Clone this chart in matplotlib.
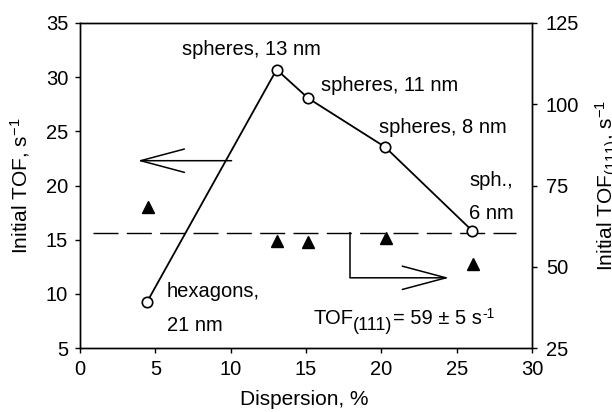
import matplotlib
matplotlib.use("Agg")
import matplotlib.pyplot as plt

plt.rcParams['font.family'] = ['Liberation Sans', 'DejaVu Sans']
plt.rcParams['mathtext.fontset'] = 'custom'
plt.rcParams['mathtext.rm'] = 'Liberation Sans'
plt.rcParams['mathtext.it'] = 'Liberation Sans:italic'
plt.rcParams['mathtext.bf'] = 'Liberation Sans:bold'
plt.rcParams['font.size'] = 14.5

# Initial TOF (left axis), open circles
disp_init = [4.45, 13.05, 15.15, 20.25, 26.05]
tof_init = [9.25, 30.7, 28.05, 23.55, 15.8]

# TOF(111) (right axis), filled triangles
disp_111 = [4.5, 13.1, 15.15, 20.3, 26.1]
tof_111 = [68.5, 58.0, 57.6, 58.7, 51.0]
tof_111_mean = 60.5

fig = plt.figure(figsize=(6.12, 4.12), dpi=100)
ax = fig.add_axes([0.1307, 0.1553, 0.7386, 0.7889])
ax2 = ax.twinx()
ax.set_zorder(ax2.get_zorder() + 1)
ax.patch.set_visible(False)

ax.set_xlim(0, 30)
ax.set_ylim(5, 35)
ax2.set_ylim(25, 125)
ax.set_xticks([0, 5, 10, 15, 20, 25, 30])
ax.set_yticks([5, 10, 15, 20, 25, 30, 35])
ax2.set_yticks([25, 50, 75, 100, 125])

for a in (ax, ax2):
    for s in a.spines.values():
        s.set_linewidth(1.0)
ax.tick_params(axis='both', direction='out', length=3.5, width=1.0, top=False, right=False)
ax.tick_params(axis='y', pad=5)
ax.tick_params(axis='x', pad=5)
ax2.tick_params(axis='y', direction='out', length=3.5, width=1.0, pad=6.5)

# TOF(111) series
ax2.plot(disp_111, tof_111, linestyle='none', marker='^', markersize=9,
         color='black', zorder=3)
ax2.plot([0.88, 28.97], [tof_111_mean, tof_111_mean], color='black', lw=1.0,
         dashes=(18, 6), zorder=2)

# Initial TOF series
ax.plot(disp_init, tof_init, color='black', lw=1.3, marker='o', markersize=7.5,
        markerfacecolor='white', markeredgecolor='black', markeredgewidth=1.2, zorder=4)

# point labels
ax.text(5.75, 9.73, "hexagons,", ha='left', va='baseline')
ax.text(5.75, 6.59, "21 nm", ha='left', va='baseline')
ax.text(11.4, 32.05, "spheres, 13 nm", ha='center', va='baseline')
ax.text(20.57, 28.75, "spheres, 11 nm", ha='center', va='baseline')
ax.text(24.1, 24.87, "spheres, 8 nm", ha='center', va='baseline')
ax.text(27.3, 19.95, "sph.,", ha='center', va='baseline')
ax.text(27.3, 16.87, "6 nm", ha='center', va='baseline')

# TOF(111) = 59 ± 5 s-1 built from pieces
t1 = ax.text(15.48, 7.18, "TOF", ha='left', va='baseline', fontsize=14.5)
t2 = ax.annotate("(111)", xy=(1, 0), xycoords=t1, xytext=(0, -4),
                 textcoords='offset points', ha='left', va='bottom', fontsize=13)
t3 = ax.annotate("= 59 ± 5 s", xy=(1, 0), xycoords=t2, xytext=(0, 4),
                 textcoords='offset points', ha='left', va='bottom', fontsize=14.5)
t4 = ax.annotate("-1", xy=(1, 1), xycoords=t3, xytext=(0.5, 2),
                 textcoords='offset points', ha='left', va='top', fontsize=10)

# arrows
arrow_kw = dict(arrowstyle='->,head_length=31.5,head_width=8.4', color='black',
                lw=1.1, shrinkA=0, shrinkB=0, mutation_scale=1)
ax.annotate("", xy=(3.83, 22.29), xytext=(10.06, 22.29), arrowprops=arrow_kw)
ax.plot([17.92, 17.92], [15.67, 11.48], color='black', lw=1.1, solid_capstyle='butt')
ax.annotate("", xy=(24.49, 11.48), xytext=(17.92, 11.48), arrowprops=arrow_kw)

ax.set_xlabel("Dispersion, %", fontsize=15)
ax.set_ylabel(r"Initial TOF, s$^{\mathregular{-1}}$", fontsize=15)
ax2.set_ylabel(r"Initial TOF$_{(111)}$, s$^{\mathregular{-1}}$", fontsize=15)
ax.xaxis.set_label_coords(0.497, -0.13)
ax.yaxis.set_label_coords(-0.106, 0.5)
ax2.yaxis.set_label_coords(1.136, 0.5)

fig.savefig("out.png", dpi=100)
